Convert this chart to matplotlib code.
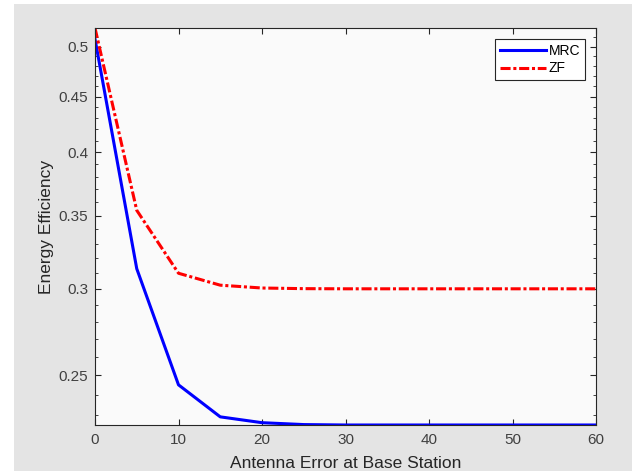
import matplotlib
matplotlib.use("Agg")
import matplotlib.pyplot as plt
from matplotlib.patches import Rectangle
from matplotlib.ticker import FixedLocator, NullFormatter
import numpy as np

# antenna error values and energy efficiency
antenna_error = [0, 5, 10, 15, 20, 25, 30, 35, 40, 45, 50, 55, 60]
ee_mrc = [0.508, 0.313, 0.245, 0.229, 0.2262, 0.2253, 0.2251, 0.2251, 0.2251, 0.2251, 0.2251, 0.2251, 0.2251]
ee_zf = [0.520, 0.354, 0.310, 0.3023, 0.3005, 0.3001, 0.3, 0.3, 0.3, 0.3, 0.3, 0.3, 0.3]
series_names = ["MRC", "ZF"]
y_major = [0.25, 0.3, 0.35, 0.4, 0.45, 0.5]
y_minor = [0.23, 0.24, 0.26, 0.27, 0.28, 0.29, 0.31, 0.32, 0.33, 0.34, 0.36, 0.37,
           0.38, 0.39, 0.41, 0.42, 0.43, 0.44, 0.46, 0.47, 0.48, 0.49, 0.51]

plt.rcParams['font.family'] = ['Liberation Sans', 'DejaVu Sans']

fig = plt.figure(figsize=(6.43, 4.71), dpi=100, facecolor="white")
# grey matlab figure window behind the axes
fig.patches.append(Rectangle((14 / 643, 0), 618 / 643, 467 / 471, transform=fig.transFigure,
                             facecolor="#e4e4e4", edgecolor="none", zorder=-10))

ax = fig.add_axes([95 / 643, 1 - 425 / 471, 501 / 643, 397 / 471])
ax.set_facecolor("#fafafa")

ax.semilogy(antenna_error, ee_mrc, "-", color="#0000ff", linewidth=2.2, label=series_names[0])
ax.semilogy(antenna_error, ee_zf, linestyle=(0, (3.3, 0.9, 1, 0.9)), color="#ff0000",
            linewidth=2.2, label=series_names[1])

ax.set_xlim(0, 60)
ax.set_ylim(0.2251, 0.520)
ax.set_xticks(np.arange(0, 61, 10))
ax.yaxis.set_major_locator(FixedLocator(y_major))
ax.yaxis.set_minor_locator(FixedLocator(y_minor))
ax.set_yticklabels(["%g" % v for v in y_major])
ax.yaxis.set_minor_formatter(NullFormatter())
ax.xaxis.set_minor_locator(FixedLocator([]))

ax.tick_params(which="both", direction="in", top=True, right=True, color="#262626",
               labelcolor="#404040", labelsize=11)
ax.tick_params(which="major", length=4)
ax.tick_params(which="minor", length=2)
ax.tick_params(axis="x", pad=6)
ax.tick_params(axis="y", pad=5)
for s in ax.spines.values():
    s.set_color("#262626")
    s.set_linewidth(0.8)

ax.set_xlabel("Antenna Error at Base Station", fontsize=12.5, color="#262626", labelpad=6)
ax.set_ylabel("Energy Efficiency", fontsize=12.5, color="#262626", labelpad=3)

leg = ax.legend(loc="upper right", fontsize=10, fancybox=False, framealpha=1,
                edgecolor="#262626", handlelength=3.3, handletextpad=0.2,
                borderpad=0.35, labelspacing=0.25, borderaxespad=0.8)
leg.get_frame().set_linewidth(0.8)

fig.savefig("out.png", dpi=100, facecolor=fig.get_facecolor())
